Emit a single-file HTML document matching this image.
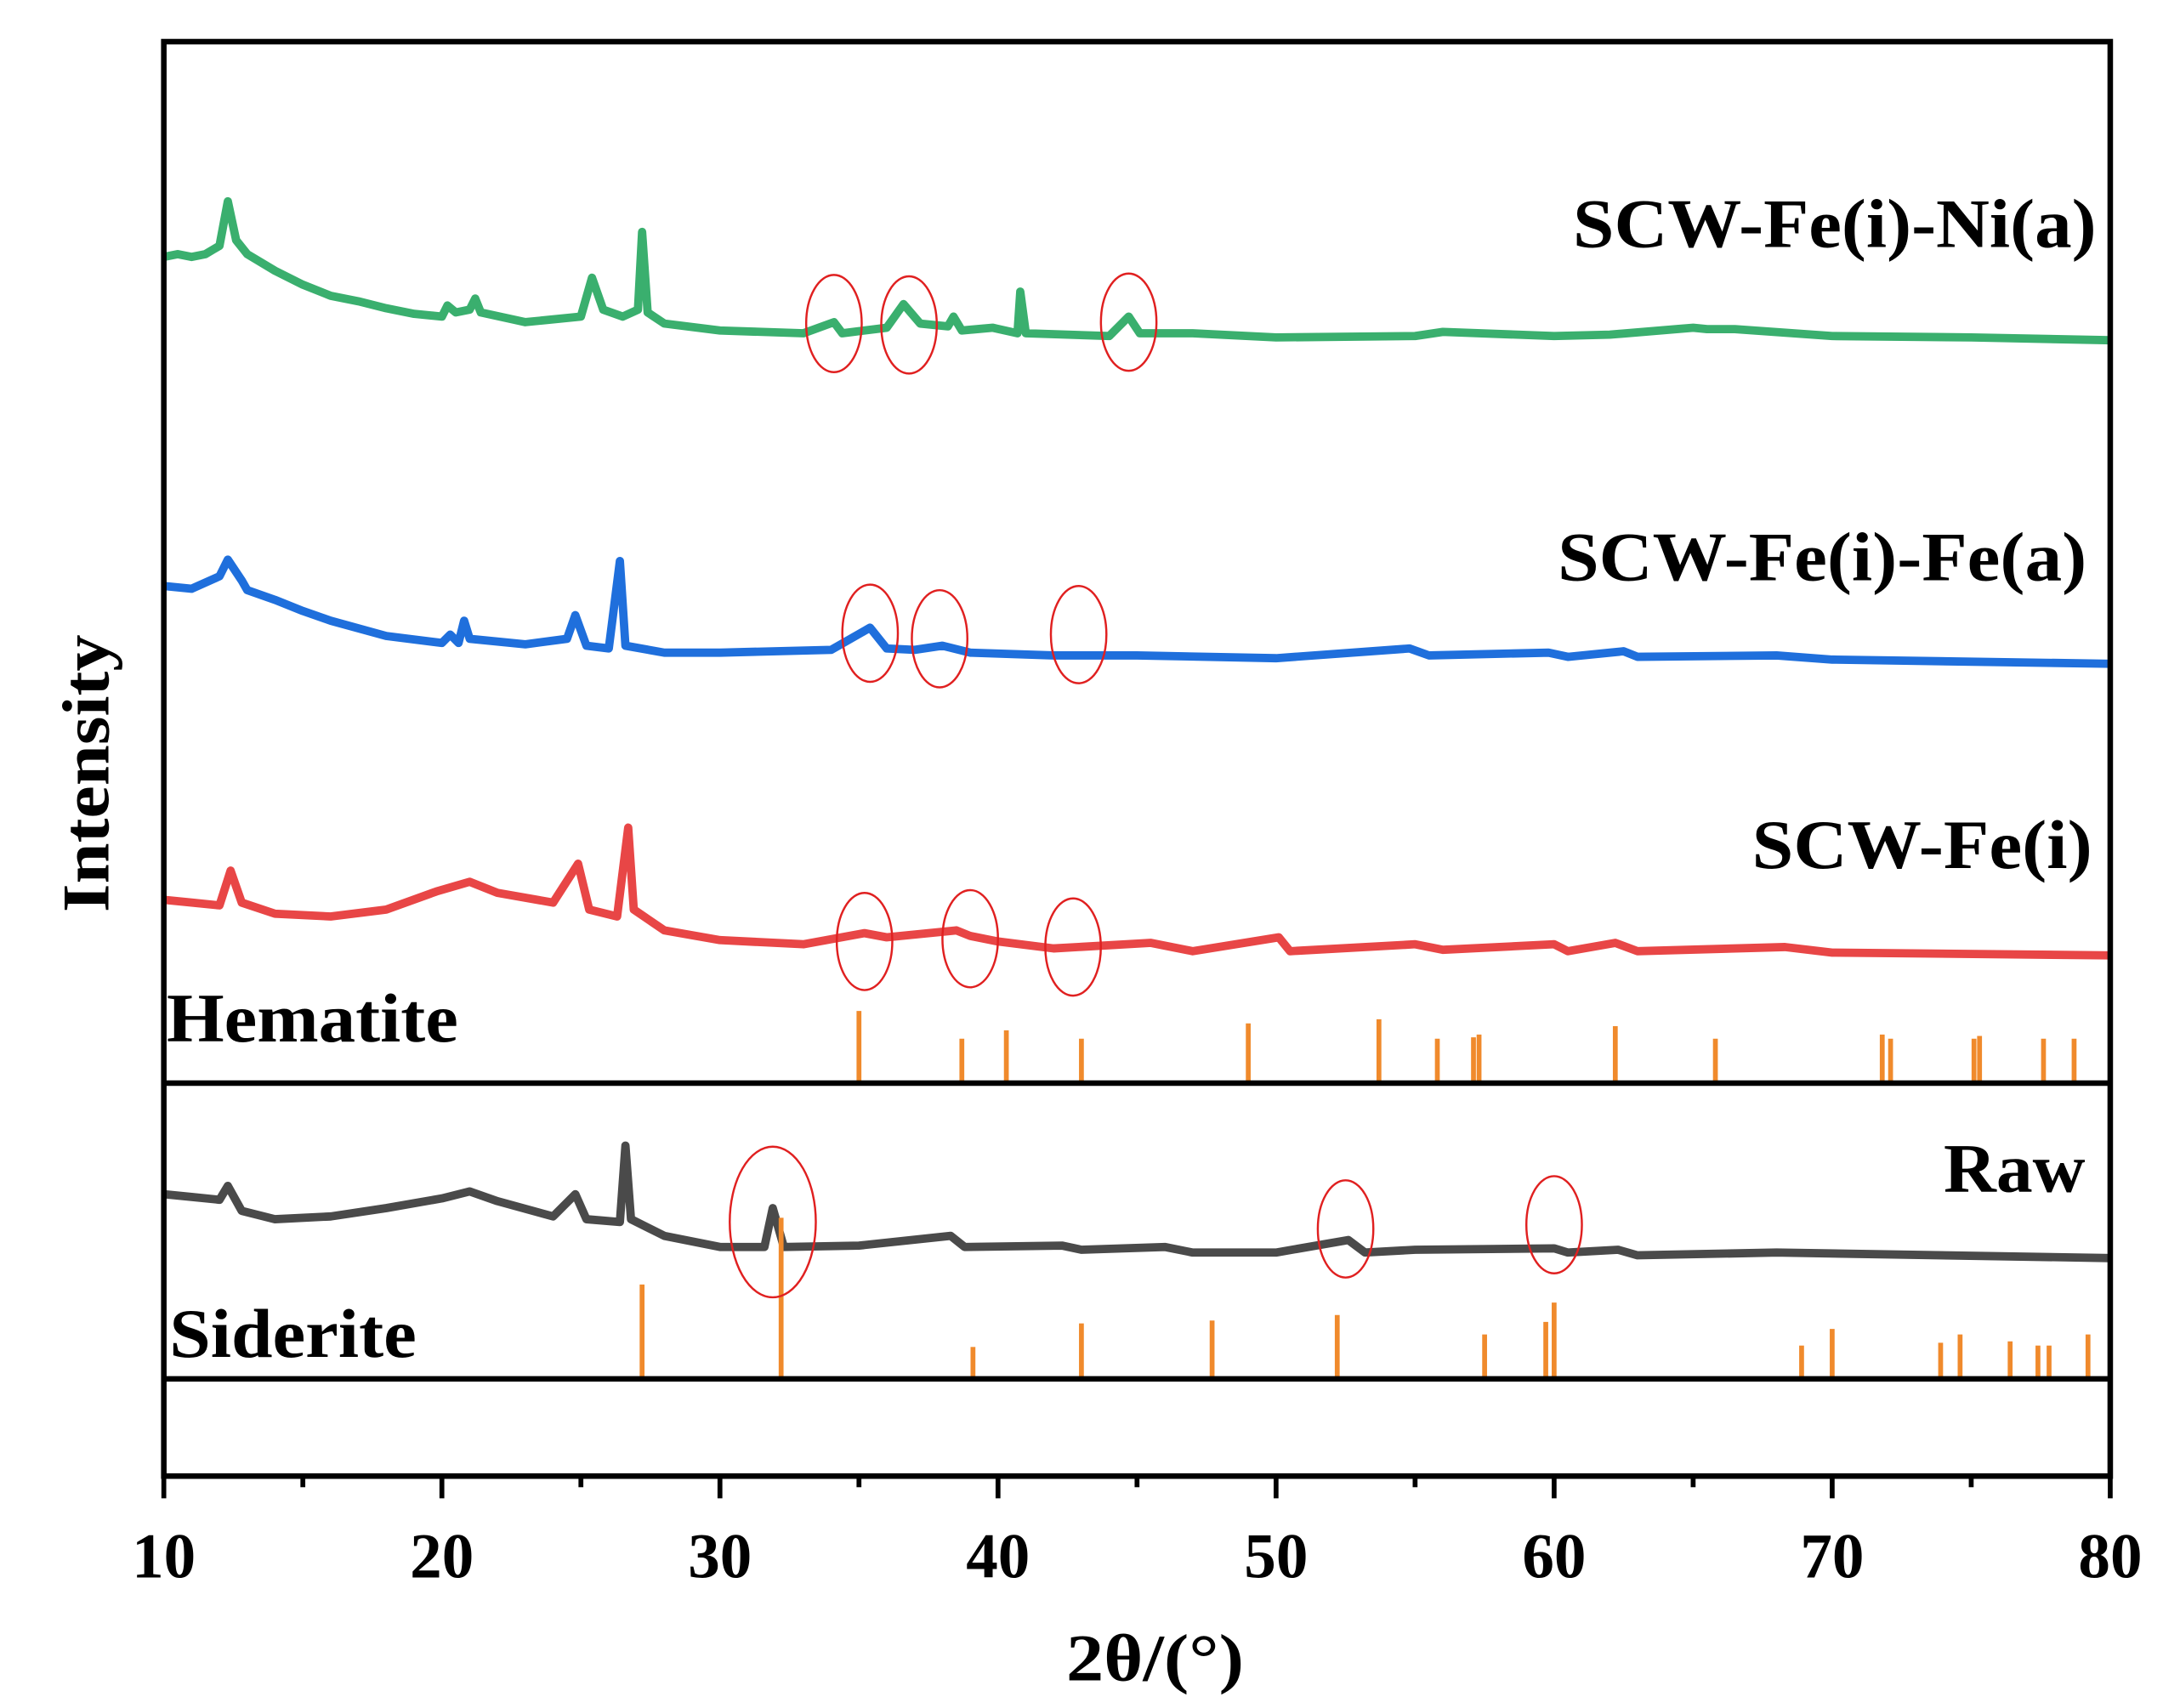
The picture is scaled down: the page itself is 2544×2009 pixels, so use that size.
<!DOCTYPE html>
<html><head><meta charset="utf-8"><style>
html,body{margin:0;padding:0;background:#fff}
svg{display:block}
text{font-family:"Liberation Serif",serif;font-weight:bold;fill:#000}
</style></head><body>
<svg id="chart" width="2544" height="2009" viewBox="0 0 1558 1230" preserveAspectRatio="none" xmlns="http://www.w3.org/2000/svg">
<g id="marks"></g>
<rect x="118" y="30" width="1402" height="1033" fill="none" stroke="#000" stroke-width="4"/>
<line x1="118" x2="1520" y1="780" y2="780" stroke="#000" stroke-width="4"/>
<line x1="118" x2="1520" y1="993" y2="993" stroke="#000" stroke-width="4"/>
<g id="ticks"></g>
<text x="1510" y="178" font-size="50" text-anchor="end" textLength="377" lengthAdjust="spacingAndGlyphs">SCW-Fe(i)-Ni(a)</text>
<text x="1503" y="418" font-size="50" text-anchor="end" textLength="381" lengthAdjust="spacingAndGlyphs">SCW-Fe(i)-Fe(a)</text>
<text x="1507" y="625" font-size="50" text-anchor="end" textLength="245" lengthAdjust="spacingAndGlyphs">SCW-Fe(i)</text>
<text x="1502" y="858" font-size="50" text-anchor="end" textLength="102" lengthAdjust="spacingAndGlyphs">Raw</text>
<text x="120" y="750" font-size="50" textLength="210" lengthAdjust="spacingAndGlyphs">Hematite</text>
<text x="122" y="977" font-size="50" textLength="178" lengthAdjust="spacingAndGlyphs">Siderite</text>
<text x="832" y="1210" font-size="48" text-anchor="middle" textLength="128" lengthAdjust="spacingAndGlyphs">2θ/(°)</text>
<text transform="translate(62,557) rotate(-90)" x="0" y="0" font-size="48" text-anchor="middle" dominant-baseline="central" textLength="200" lengthAdjust="spacingAndGlyphs">Intensity</text>
</svg>
<script>
const xTicks=[10,20,30,40,50,60,70,80];
const minorTicks=[15,25,35,45,55,65,75];
const greenX=[10,10.5,11,11.5,12,12.3,12.6,13,14,15,16,17,18,19,20,20.2,20.5,21,21.2,21.4,23,25,25.4,25.8,26.5,27.05,27.2,27.4,28,30,33,34.1,34.4,36,36.6,37.2,38.2,38.4,38.7,39.8,40.7,40.8,41,44,44.7,45.1,47,50,55,56,60,62,65,65.5,66.5,70,75,80];
const greenY=[60,62,60,62,68,100,72,62,50,40,32,28,23,19,17,25,20,22,30,20,13,17,45,22,17,22,78,20,12,7,5,13,5,9,26,12,10,17,7,9,5,35,5,3,17,5,5,2,3,6,3,4,9,8,8,3,2,0];
const blueX=[10,11,12,12.3,12.8,13,14,15,16,18,20,20.3,20.6,20.8,21,23,24.5,24.8,25.2,26,26.4,26.6,28,30,34,35.4,36,37,38,39,42,45,50,54.8,55.5,59.8,60.5,62.5,63,68,70,80];
const blueY=[56,54,63,75,60,53,46,38,31,20,15,21,15,31,18,14,18,35,13,11,74,13,8,8,10,26,11,10,13,8,6,6,4,11,6,8,5,9,5,6,3,0];
const redX=[10,11,12,12.4,12.8,14,16,18,19.8,21,22,24,24.9,25.3,26.3,26.7,26.9,28,30,33,35.2,36,38.5,39,40,42,45.5,47,50.1,50.5,55,56,60,60.5,62.2,63,68.3,70,80];
const redY=[40,38,36,61,38,30,28,33,46,53,45,38,66,33,28,92,33,18,11,8,16,13,18,14,10,5,9,3,13,3,8,4,8,3,9,3,6,2,0];
const grayX=[10,11,12,12.3,12.8,14,16,18,20,21,22,24,24.8,25.2,26.4,26.6,26.8,28,30,31.6,31.9,32.3,35,38.3,38.8,42.3,43,46,47,50,52.6,53.2,55,60,60.5,62.3,63,68,80];
const grayY=[46,44,42,52,34,28,30,36,43,48,41,30,46,28,26,81,28,16,8,8,36,8,9,16,8,9,6,8,4,4,13,4,6,7,4,6,2,4,0];
const hematitePos=[35.0,38.7,40.3,43.0,49.0,53.7,55.8,57.1,57.3,62.2,65.8,71.8,72.1,75.1,75.3,77.6,78.7];
const hematiteH=[52,32,38,32,43,46,32,33,35,41,32,35,32,32,34,32,32];
const sideritePos=[27.2,32.2,39.1,43.0,47.7,52.2,57.5,59.7,60.0,68.9,70.0,73.9,74.6,76.4,77.4,77.8,79.2];
const sideriteH=[68,116,23,40,42,46,32,41,55,24,36,26,32,27,24,24,32];
const circleX=[34.1,36.8,44.7,35.4,37.9,42.9,35.2,39.0,42.7,31.9,52.5,60.0];
const circleBase=[245,245,245,478,478,478,688,688,688,906,906,906];
const circleLift=[12,11,13,22,18,21,10,12,6,26,21,24];
const circleR=[20,20,20,20,20,20,20,20,20,31,20,20];

const NS="http://www.w3.org/2000/svg";
function xs(v){return 118+(v-10)*(1402/70);}
function ys(v,base){return base-v;}
const marks=document.getElementById('marks');
const ticks=document.getElementById('ticks');
function mk(tag,attrs,parent){const e=document.createElementNS(NS,tag);for(const k in attrs)e.setAttribute(k,attrs[k]);parent.appendChild(e);return e;}

function series(X,Y,base,color,name){
  const pts=X.map((x,i)=>xs(x).toFixed(1)+','+ys(Y[i],base).toFixed(1)).join(' ');
  const p=mk('polyline',{points:pts,fill:'none',stroke:color,'stroke-width':6,'stroke-linejoin':'round'},marks);
  
  
}
series(greenX,greenY,245,'#3aaf6e','series-scw-fe-ni');
series(blueX,blueY,478,'#1f6fdc','series-scw-fe-fe');
series(redX,redY,688,'#e84646','series-scw-fe');
series(grayX,grayY,906,'#4a4a4a','series-raw');

hematitePos.forEach((p,i)=>{
  const l=mk('line',{x1:xs(p),x2:xs(p),y1:780,y2:780-hematiteH[i],stroke:'#f08a2c','stroke-width':3.5},marks);
  
  
});
sideritePos.forEach((p,i)=>{
  const l=mk('line',{x1:xs(p),x2:xs(p),y1:993,y2:993-sideriteH[i],stroke:'#f08a2c','stroke-width':3.5},marks);
  
  
});
circleX.forEach((c,i)=>{
  const r=circleR[i];
  const e=mk('ellipse',{cx:xs(c),cy:ys(circleLift[i],circleBase[i]),rx:r,ry:r*1.75,fill:'none',stroke:'#e02020','stroke-width':1.5},marks);
  
  
});
xTicks.forEach(t=>{
  const l=mk('line',{x1:xs(t),x2:xs(t),y1:1063,y2:1079,stroke:'#000','stroke-width':3.5},ticks);
  
  
  const tx=mk('text',{x:xs(t),y:1136,'font-size':46,'text-anchor':'middle'},ticks);
  tx.textContent=String(t);
  
  
});
minorTicks.forEach(t=>{
  const l=mk('line',{x1:xs(t),x2:xs(t),y1:1063,y2:1071,stroke:'#000','stroke-width':3.5},ticks);
  
  
});
</script>
</body></html>
